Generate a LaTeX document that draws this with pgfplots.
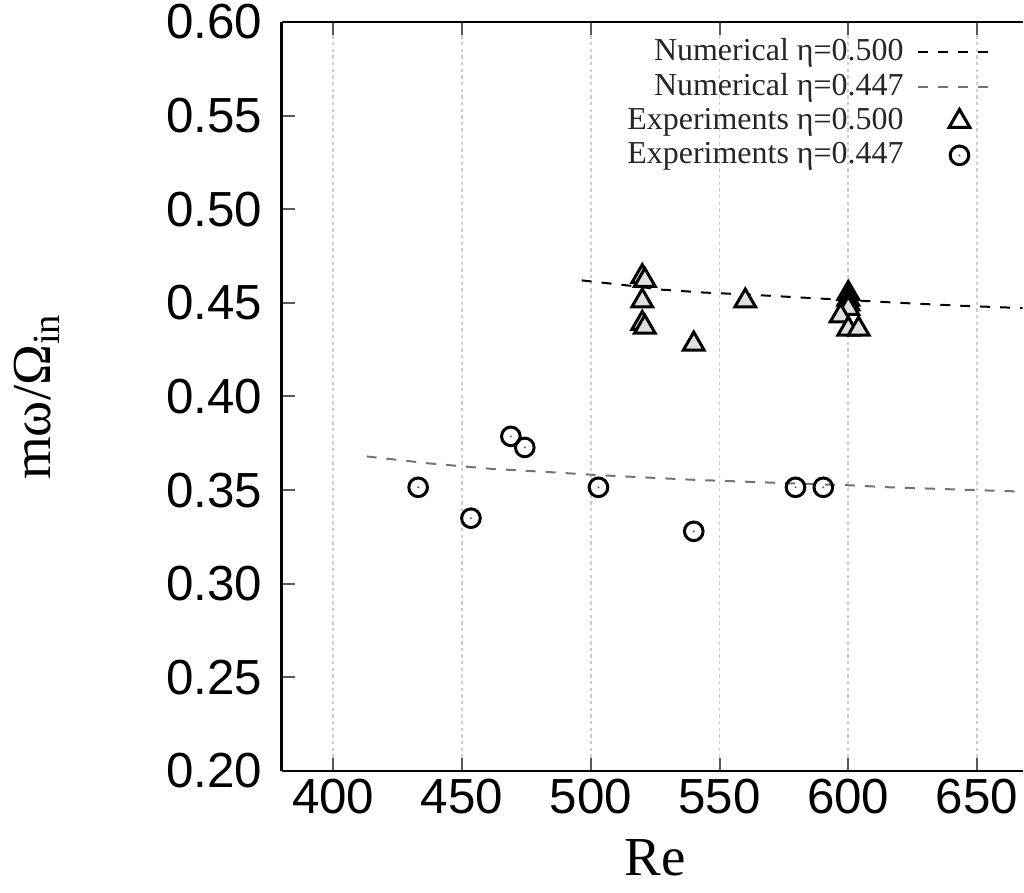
\documentclass[border=0pt]{standalone}
\usepackage{fontspec}
\setmainfont{Liberation Serif}
\setsansfont{Liberation Sans}
\usepackage{pgfplots}
\pgfplotsset{compat=1.18}
\pgfdeclareplotmark{circdot}{%
  \pgfpathcircle{\pgfpointorigin}{\pgfplotmarksize}%
  \pgfusepathqstroke
  \pgfpathcircle{\pgfpointorigin}{0.35pt}%
  \pgfusepathqfill
}
\pgfplotsset{
  lineleg/.style={legend image code/.code={\draw[##1] (0pt,0pt) -- (21pt,0pt);}},
  markleg/.style={legend image code/.code={\draw[##1] plot coordinates {(12.5pt,0pt)};}},
  triwleg/.style={legend image code/.code={\draw[##1, mark options={draw=black, fill=white, line width=0.9pt}] plot coordinates {(12.5pt,0pt)};}},
}
\begin{document}
\begin{tikzpicture}
\path (-84.6pt,-36.6pt) rectangle (222.6pt,231.6pt);
\begin{axis}[
  at={(0,0)}, anchor=south west,
  scale only axis, width=222.6pt, height=225pt,
  xmin=380, xmax=667.7, ymin=0.2, ymax=0.6,
  separate axis lines,
  axis x line=box, axis y line*=left,
  xtick={400,450,500,550,600,650},
  ytick={0.20,0.25,0.30,0.35,0.40,0.45,0.50,0.55,0.60},
  y tick label style={/pgf/number format/fixed, /pgf/number format/fixed zerofill, /pgf/number format/precision=2},
  /pgf/number format/assume math mode=true,
  tick label style={font=\fontsize{14.8}{16}\selectfont\sffamily, inner sep=0pt},
  xticklabel style={yshift=-2.2pt},
  yticklabel style={xshift=-5.7pt},
  axis line style={black, line width=0.8pt, -},
  tick style={gray!70!black, line width=0.6pt},
  major tick length=4pt, tick align=inside,
  xtick pos=both, ytick pos=left,
  xmajorgrids=true,
  major grid style={gray!40, dash pattern=on 1pt off 1pt, line width=0.5pt},
  xlabel={Re},
  xlabel style={at={(axis cs:525,0.2)}, anchor=center, yshift=-26.1pt, font=\fontsize{16.5}{18}\selectfont},
  ylabel={mω/Ω\textsubscript{in}},
  ylabel style={at={(axis description cs:0,0.5)}, anchor=center, yshift=73.5pt, font=\fontsize{16.5}{18}\selectfont},
  legend plot pos=right,
  legend cell align=right,
  legend style={at={(axis cs:654.8,0.595)}, anchor=north east, draw=none, fill=none,
    inner sep=0pt, font=\fontsize{9.6}{10}\selectfont, row sep=-1.7pt,
    text=black!85, /tikz/every odd column/.append style={column sep=2pt}},
]
\addplot[black, line width=0.6pt, dash pattern=on 3pt off 3pt, lineleg]
  coordinates {(496.5,0.462) (513,0.4595) (528,0.457) (544,0.4555) (560,0.4545) (589,0.4523) (620,0.450) (643,0.4485) (667.7,0.4472)};
\addlegendentry{Numerical η=0.500}
\addplot[black!55, line width=0.6pt, dash pattern=on 3pt off 3pt, lineleg]
  coordinates {(413,0.368) (437,0.3643) (461,0.3614) (484,0.3596) (503,0.358) (540,0.3555) (580,0.3535) (602,0.3525) (616,0.3515) (667.7,0.3492)};
\addlegendentry{Numerical η=0.447}
\addplot[only marks, mark=triangle*, mark size=3.6pt,
  mark options={draw=black, fill=gray!25, line width=0.9pt}, triwleg]
  coordinates {(520,0.464) (521,0.462) (520,0.451) (520,0.439) (521,0.437) (540,0.428) (560,0.451)
               (600,0.455) (600,0.452) (600,0.4495) (600,0.447) (597,0.443) (600,0.436) (604,0.436)};
\addlegendentry{Experiments η=0.500}
\addplot[only marks, mark=circdot, mark size=2.8pt,
  mark options={draw=black, fill=black!60, line width=0.9pt}, markleg]
  coordinates {(433,0.3515) (453.5,0.335) (469,0.3787) (474.4,0.3728) (503,0.3515) (540,0.328) (579.5,0.3515) (590.3,0.3515)};
\addlegendentry{Experiments η=0.447}
\end{axis}
\end{tikzpicture}
\end{document}
